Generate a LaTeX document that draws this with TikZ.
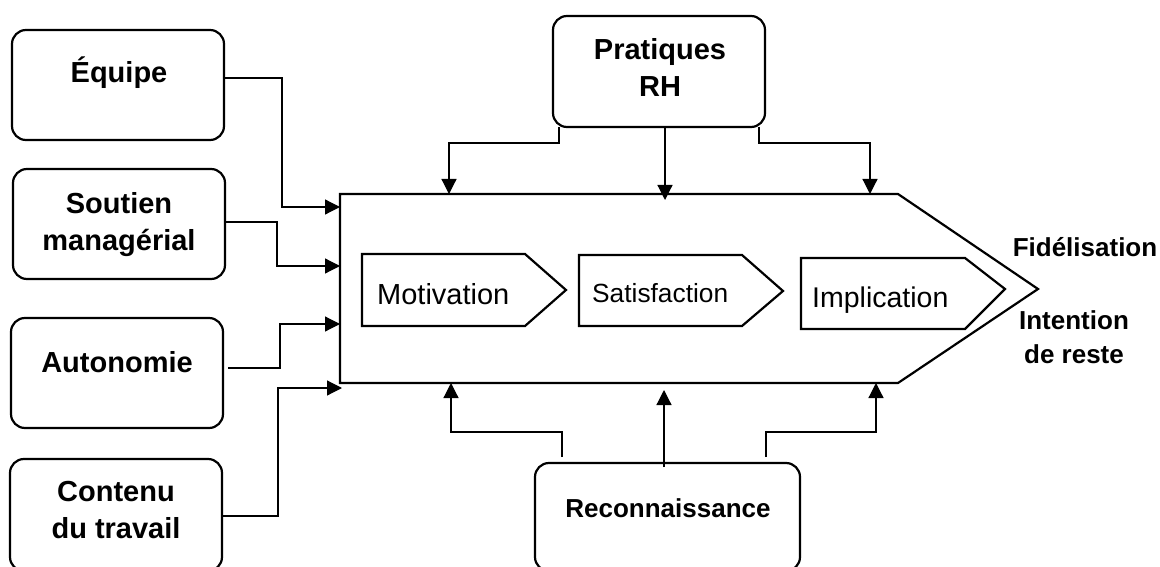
\documentclass[tikz,border=0pt]{standalone}
\usepackage{fontspec}
\setmainfont{Liberation Sans}
\usetikzlibrary{arrows.meta}
\begin{document}
\begin{tikzpicture}[x=1pt,y=-1pt,
  box/.style={draw, line width=2.2pt, rounded corners=14pt, inner sep=0pt, outer sep=0pt, anchor=north west},
  shapeline/.style={draw, line width=2.2pt, line join=miter},
  conn/.style={line width=1.2pt, -{Triangle[length=15pt,width=15pt]}},
  blbl/.style={font=\bfseries\fontsize{29}{37}\selectfont, align=center, inner sep=0pt, anchor=base},
  slbl/.style={font=\bfseries\fontsize{26}{34}\selectfont, align=center, inner sep=0pt, anchor=base},
  ilbl/.style={inner sep=0pt, anchor=base west},
]
\clip (0,0) rectangle (1160,567);
\fill[white] (0,0) rectangle (1160,567);

% left boxes
\node[box, minimum width=212pt, minimum height=110pt] (equipe) at (12,30) {};
\node[box, minimum width=212pt, minimum height=110pt] (soutien) at (13,169) {};
\node[box, minimum width=212pt, minimum height=110pt] (autonomie) at (11,318) {};
\node[box, minimum width=212pt, minimum height=112pt] (contenu) at (10,459) {};
% top / bottom boxes
\node[box, minimum width=212pt, minimum height=111pt] (pratiques) at (553,16) {};
\node[box, minimum width=265pt, minimum height=108pt] (reco) at (535,463) {};

% labels (anchor=base refers to the last line)
\node[blbl] (tequipe) at (119,83) {Équipe};
\node[blbl] (tsoutien) at (119,250) {Soutien\\managérial};
\node[blbl] (tautonomie) at (117,372) {Autonomie};
\node[blbl] (tcontenu) at (116,538) {Contenu\\du travail};
\node[blbl] (tpratiques) at (660,97) {Pratiques\\RH};
\node[slbl] (treco) at (668,517) {Reconnaissance};
\node[slbl] (tfid) at (1085,256) {Fidélisation};
\node[slbl] (tint) at (1074,363) {Intention\\de reste};

% main arrow shape
\coordinate (mNW) at (340,194);
\coordinate (mNE) at (898,194);
\coordinate (mTip) at (1038,289);
\coordinate (mSE) at (898,383);
\coordinate (mSW) at (340,383);
\draw[shapeline] (mNW) -- (mNE) -- (mTip) -- (mSE) -- (mSW) -- cycle;

% inner arrows
\draw[shapeline] (362,254) -- (525,254) -- (566,290) -- (525,326) -- (362,326) -- cycle;
\draw[shapeline] (579,255) -- (742,255) -- (783,291) -- (742,326) -- (579,326) -- cycle;
\draw[shapeline] (801,258) -- (965,258) -- (1005,289) -- (965,329) -- (801,329) -- cycle;
\node[ilbl, font=\fontsize{29}{34}\selectfont] (tmot) at (377,304) {Motivation};
\node[ilbl, font=\fontsize{26.3}{32}\selectfont] (tsat) at (592,302) {Satisfaction};
\node[ilbl, font=\fontsize{28.5}{34}\selectfont] (timp) at (812,307) {Implication};

% connectors from left boxes
\coordinate (aStart) at (228,368);
\draw[conn] (equipe.east |- 0,78) -- (282,78) -- (282,207) -- (mNW |- 0,207);
\draw[conn] (soutien.east |- 0,222) -- (277,222) -- (277,266) -- (mNW |- 0,266);
\draw[conn] (aStart) -- (280,368) -- (280,324) -- (mNW |- 0,324);
\draw[conn] (contenu.east |- 0,516) -- (278,516) -- (278,388) -- (342,388);

% connectors from Pratiques RH
\draw[conn] (pratiques.south -| 559,0) -- (559,143) -- (449,143) -- (449,194);
\draw[conn] (pratiques.south -| 665,0) -- (665,200);
\draw[conn] (pratiques.south -| 759,0) -- (759,143) -- (870,143) -- (870,194);

% connectors from Reconnaissance
\coordinate (rL) at (562,457);
\coordinate (rM) at (664,467);
\coordinate (rR) at (766,457);
\draw[conn] (rL) -- (562,432) -- (451,432) -- (451,383);
\draw[conn] (rM) -- (664,390);
\draw[conn] (rR) -- (766,432) -- (876,432) -- (876,383);
\end{tikzpicture}
\end{document}
